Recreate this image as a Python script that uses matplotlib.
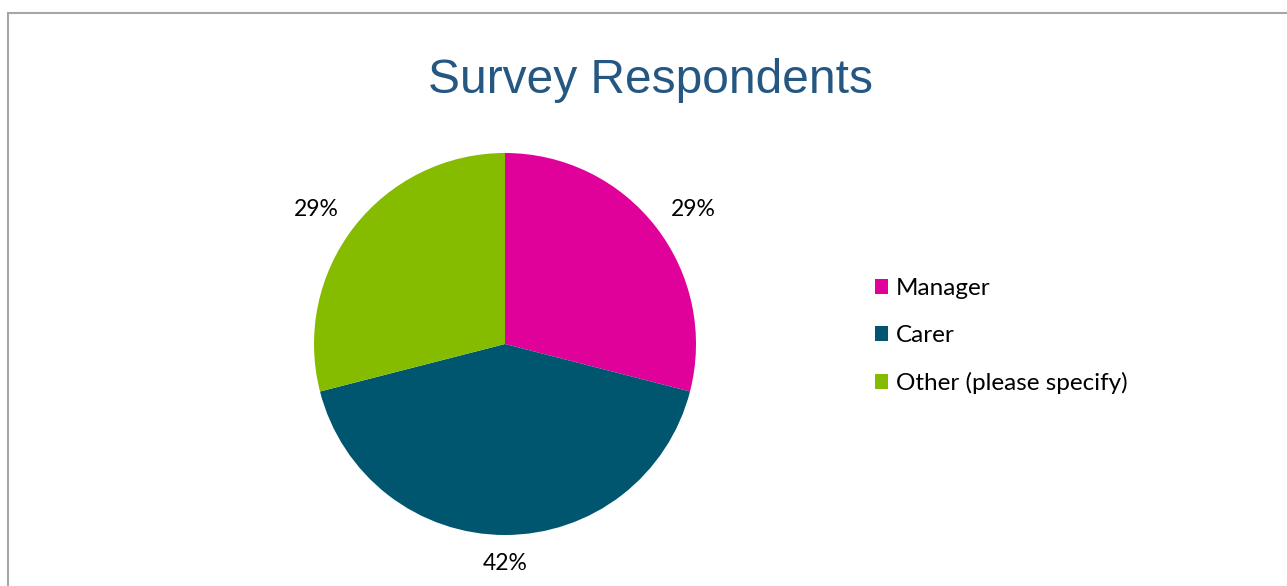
import numpy as np
import matplotlib.pyplot as plt
from matplotlib.patches import Rectangle

# survey breakdown
categories = ["Manager", "Carer", "Other (please specify)"]
shares = [29, 42, 29]
colors = ["#E0009A", "#00566F", "#86BC00"]

W, H = 1287, 586
fig = plt.figure(figsize=(W / 100, H / 100), dpi=100)
fig.patch.set_facecolor("white")

# chart-area frame (top and left visible, rest clipped)
fig.add_artist(Rectangle((8 / W, -0.05), 1.2, (H - 13) / H + 0.05,
                         transform=fig.transFigure, fill=False,
                         edgecolor="#A6A6A6", linewidth=1.5))

fig.text(651 / W, 1 - 81 / H, "Survey Respondents", ha="center", va="center",
         fontsize=34.5, color="#245782", family="Liberation Sans")

cx, cy, r = 505, 344, 191
ax = fig.add_axes([(cx - r) / W, (H - cy - r) / H, 2 * r / W, 2 * r / H])
wedges, _ = ax.pie(shares, colors=colors, startangle=90, counterclock=False,
                   radius=1, wedgeprops=dict(linewidth=0))
ax.set_xlim(-1, 1)
ax.set_ylim(-1, 1)
ax.axis("off")

# percentage labels just outside each slice
label_font = dict(family="Lato", fontsize=16.5, color="#000000")
for w, v in zip(wedges, shares):
    mid = np.deg2rad((w.theta1 + w.theta2) / 2)
    ax.text(1.25 * np.cos(mid), 1.15 * np.sin(mid), f"{v}%", ha="center",
            va="center", clip_on=False, **label_font)

handles = [Rectangle((0, 0), 1, 1, facecolor=c, edgecolor="none") for c in colors]
fig.legend(handles, categories, loc="upper left",
           bbox_to_anchor=(853 / W, 1 - 256 / H), frameon=False,
           prop=dict(family="Lato", size=17.5), handlelength=0.56,
           handleheight=0.56, handletextpad=0.3, labelspacing=1.07)

fig.savefig("out.png", dpi=100, facecolor="white")
